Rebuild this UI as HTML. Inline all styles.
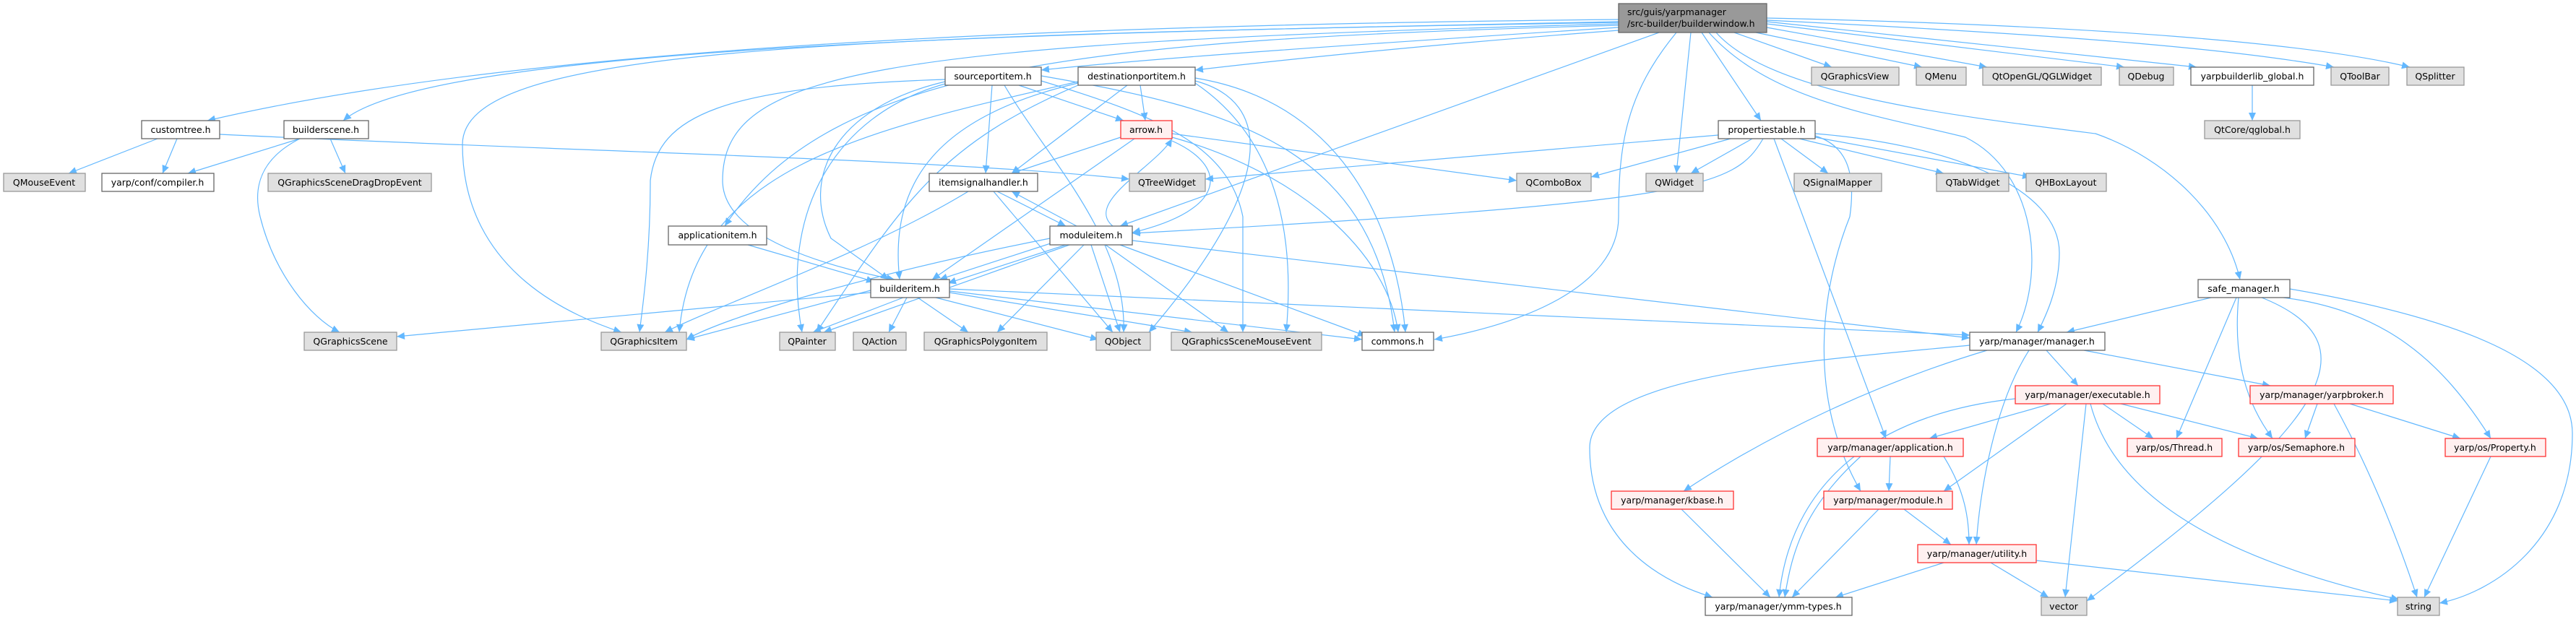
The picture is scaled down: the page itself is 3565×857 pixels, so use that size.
<!DOCTYPE html>
<html><head><meta charset="utf-8"><style>
html,body{margin:0;padding:0;background:#fff;}
svg{display:block;}
text{font-family:"DejaVu Sans","Liberation Sans",sans-serif;font-size:12.5px;fill:#000;}
.w{fill:#fff;stroke:#666;stroke-width:1.3}
.g{fill:#e0e0e0;stroke:#999;stroke-width:1.3}
.r{fill:#fff0f0;stroke:#f33;stroke-width:1.3}
.root{fill:#999;stroke:#666;stroke-width:1.3}
.e{fill:none;stroke:#63b8ff;stroke-width:1.2;marker-end:url(#ah)}
</style></head><body>
<svg width="3565" height="857" viewBox="0 0 3565 857" xmlns="http://www.w3.org/2000/svg">
<defs><marker id="ah" markerUnits="userSpaceOnUse" markerWidth="12" markerHeight="10" refX="11" refY="5" orient="auto"><path d="M0,0 L11,5 L0,10 z" fill="#63b8ff"/></marker></defs>
<g>
<path class="e" d="M2240,27 C1400,35 700,70 287,167"/>
<path class="e" d="M2240,30 C1500,45 600,60 475,167"/>
<path class="e" d="M2240,38 C1900,60 1600,80 1441,97"/>
<path class="e" d="M2240,42 C2000,60 1800,80 1654,97"/>
<path class="e" d="M2240,35 C1500,55 1150,90 1003,313"/>
<path class="e" d="M2240,33 C1200,60 1000,100 1000,250 C1000,330 1150,370 1238,387"/>
<path class="e" d="M2240,31 C1100,50 640,70 640,200 C640,380 800,440 860,460"/>
<path class="e" d="M2296,45 L1550,313"/>
<path class="e" d="M2320,45 C2250,130 2240,200 2240,300 C2240,400 2100,450 1985,470"/>
<path class="e" d="M2340,45 L2320,240"/>
<path class="e" d="M2355,45 L2437,167"/>
<path class="e" d="M2400,45 L2535,93"/>
<path class="e" d="M2430,45 L2660,93"/>
<path class="e" d="M2445,38 L2750,93"/>
<path class="e" d="M2445,33 L2940,93"/>
<path class="e" d="M2445,30 L3040,93"/>
<path class="e" d="M2445,28 C2900,50 3100,70 3230,93"/>
<path class="e" d="M2445,25 C2900,35 3200,60 3335,93"/>
<path class="e" d="M2375,45 C2450,130 2700,160 2900,185 C3000,220 3080,300 3100,387"/>
<path class="e" d="M2365,45 C2450,140 2600,160 2720,190 C2820,240 2830,380 2790,460"/>
<path class="e" d="M3117,118 L3117,167"/>
<path class="e" d="M218,192 L95,240"/>
<path class="e" d="M245,192 L225,240"/>
<path class="e" d="M304,186 C800,210 1300,220 1563,248"/>
<path class="e" d="M415,192 L260,240"/>
<path class="e" d="M457,192 L478,240"/>
<path class="e" d="M415,192 C360,220 350,260 360,300 C380,380 430,440 470,460"/>
<path class="e" d="M1410,118 L1555,167"/>
<path class="e" d="M1373,118 L1364,240"/>
<path class="e" d="M1308,113 C1150,150 1110,250 1150,330 L1230,387"/>
<path class="e" d="M1308,110 C1000,120 910,160 900,250 C900,350 890,420 885,460"/>
<path class="e" d="M1308,116 C1150,160 1080,300 1110,460"/>
<path class="e" d="M1441,112 C1600,160 1700,200 1720,300 L1720,460"/>
<path class="e" d="M1441,105 C1700,150 1900,200 1930,460"/>
<path class="e" d="M1390,118 C1450,220 1560,330 1555,460"/>
<path class="e" d="M1578,118 L1585,167"/>
<path class="e" d="M1560,118 L1400,240"/>
<path class="e" d="M1492,115 C1300,160 1230,250 1245,387"/>
<path class="e" d="M1492,113 C1200,180 960,230 940,460"/>
<path class="e" d="M1492,118 C1300,200 1250,280 1130,460"/>
<path class="e" d="M1654,112 C1760,140 1770,250 1590,460"/>
<path class="e" d="M1654,108 C1850,140 1930,300 1945,460"/>
<path class="e" d="M1654,115 C1780,200 1790,350 1780,460"/>
<path class="e" d="M1551,190 L1400,240"/>
<path class="e" d="M1570,192 L1290,387"/>
<path class="e" d="M1622,185 L2099,250"/>
<path class="e" d="M1622,195 C1700,230 1700,290 1567,322"/>
<path class="e" d="M1540,313 C1500,280 1600,230 1622,192"/>
<path class="e" d="M1622,190 C1800,240 1920,350 1935,460"/>
<path class="e" d="M1340,265 C1200,350 1000,420 920,460"/>
<path class="e" d="M1380,265 L1475,313"/>
<path class="e" d="M1490,313 L1400,265"/>
<path class="e" d="M1375,265 L1540,460"/>
<path class="e" d="M1460,335 L1300,387"/>
<path class="e" d="M1475,339 L1312,392"/>
<path class="e" d="M1453,330 C1200,380 1000,440 950,470"/>
<path class="e" d="M1480,339 L1140,460"/>
<path class="e" d="M1500,339 L1380,460"/>
<path class="e" d="M1510,339 L1550,460"/>
<path class="e" d="M1530,339 L1700,460"/>
<path class="e" d="M1550,339 L1890,465"/>
<path class="e" d="M1567,333 L2726,468"/>
<path class="e" d="M1205,405 L549,466"/>
<path class="e" d="M1205,402 L950,470"/>
<path class="e" d="M1250,412 L1125,460"/>
<path class="e" d="M1255,412 L1230,460"/>
<path class="e" d="M1270,412 L1340,460"/>
<path class="e" d="M1295,412 L1520,470"/>
<path class="e" d="M1314,405 L1650,460"/>
<path class="e" d="M1314,403 L1885,470"/>
<path class="e" d="M1314,400 L2726,464"/>
<path class="e" d="M1035,339 L1210,390"/>
<path class="e" d="M2395,192 L2202,245"/>
<path class="e" d="M2425,192 L2340,240"/>
<path class="e" d="M2465,192 L2530,240"/>
<path class="e" d="M2490,192 L2690,240"/>
<path class="e" d="M2512,190 L2810,245"/>
<path class="e" d="M2378,187 L1668,248"/>
<path class="e" d="M2440,192 C2400,260 2350,280 1567,323"/>
<path class="e" d="M2512,185 C2700,200 2850,260 2850,350 C2850,400 2830,440 2820,460"/>
<path class="e" d="M2455,192 L2610,607"/>
<path class="e" d="M2512,188 C2550,200 2570,230 2560,300 C2520,400 2500,550 2575,680"/>
<path class="e" d="M3060,412 L2860,460"/>
<path class="e" d="M3095,412 L3012,607"/>
<path class="e" d="M3098,412 C3090,500 3110,560 3145,607"/>
<path class="e" d="M3160,412 C3300,430 3380,500 3447,607"/>
<path class="e" d="M3130,412 C3300,480 3200,600 2888,832"/>
<path class="e" d="M3169,400 C3400,440 3560,500 3560,600 C3560,750 3450,820 3376,835"/>
<path class="e" d="M2832,485 L2876,534"/>
<path class="e" d="M2884,485 L3142,534"/>
<path class="e" d="M2808,485 C2760,560 2740,680 2735,754"/>
<path class="e" d="M2726,478 C2500,500 2200,520 2200,620 C2200,780 2350,820 2370,827"/>
<path class="e" d="M2750,485 C2600,530 2450,600 2330,680"/>
<path class="e" d="M2838,559 L2670,607"/>
<path class="e" d="M2860,559 L2690,680"/>
<path class="e" d="M2910,559 L2980,607"/>
<path class="e" d="M2935,559 L3125,607"/>
<path class="e" d="M2887,559 L2858,827"/>
<path class="e" d="M2893,559 C2930,700 3100,780 3320,830"/>
<path class="e" d="M2789,552 C2620,570 2480,650 2462,827"/>
<path class="e" d="M3207,559 L3190,607"/>
<path class="e" d="M3252,559 L3405,607"/>
<path class="e" d="M3230,559 C3280,650 3320,750 3345,827"/>
<path class="e" d="M2616,632 L2614,680"/>
<path class="e" d="M2690,632 C2720,680 2725,720 2725,754"/>
<path class="e" d="M2575,632 C2500,700 2480,760 2470,827"/>
<path class="e" d="M2635,705 L2700,754"/>
<path class="e" d="M2600,705 L2480,827"/>
<path class="e" d="M2327,705 L2450,827"/>
<path class="e" d="M2690,779 L2540,827"/>
<path class="e" d="M2755,779 L2835,827"/>
<path class="e" d="M2818,776 L3318,832"/>
<path class="e" d="M3447,632 L3355,827"/>
</g>
<g text-anchor="middle">
<rect class="root" x="2240" y="5" width="205" height="40"/>
<text x="2252" y="21" text-anchor="start">src/guis/yarpmanager</text>
<text x="2252" y="37" text-anchor="start">/src-builder/builderwindow.h</text>

<rect class="w" x="196" y="167" width="108" height="25"/><text x="250" y="184">customtree.h</text>
<rect class="w" x="393" y="167" width="117" height="25"/><text x="451" y="184">builderscene.h</text>
<rect class="g" x="5" y="240" width="113" height="25"/><text x="61" y="257">QMouseEvent</text>
<rect class="w" x="141" y="240" width="155" height="25"/><text x="218" y="257">yarp/conf/compiler.h</text>
<rect class="g" x="371" y="240" width="226" height="25"/><text x="484" y="257">QGraphicsSceneDragDropEvent</text>
<rect class="w" x="1308" y="93" width="133" height="25"/><text x="1374" y="110">sourceportitem.h</text>
<rect class="w" x="1492" y="93" width="162" height="25"/><text x="1573" y="110">destinationportitem.h</text>
<rect class="r" x="1551" y="167" width="71" height="25"/><text x="1586" y="184">arrow.h</text>
<rect class="w" x="1286" y="240" width="150" height="25"/><text x="1361" y="257">itemsignalhandler.h</text>
<rect class="g" x="1563" y="240" width="105" height="25"/><text x="1615" y="257">QTreeWidget</text>
<rect class="w" x="925" y="313" width="136" height="26"/><text x="993" y="330">applicationitem.h</text>
<rect class="w" x="1453" y="313" width="114" height="26"/><text x="1510" y="330">moduleitem.h</text>
<rect class="w" x="1205" y="387" width="109" height="25"/><text x="1259" y="404">builderitem.h</text>
<rect class="g" x="2507" y="93" width="121" height="25"/><text x="2567" y="110">QGraphicsView</text>
<rect class="g" x="2652" y="93" width="69" height="25"/><text x="2686" y="110">QMenu</text>
<rect class="g" x="2744" y="93" width="164" height="25"/><text x="2826" y="110">QtOpenGL/QGLWidget</text>
<rect class="g" x="2933" y="93" width="75" height="25"/><text x="2970" y="110">QDebug</text>
<rect class="w" x="3032" y="93" width="170" height="25"/><text x="3117" y="110">yarpbuilderlib_global.h</text>
<rect class="g" x="3226" y="93" width="80" height="25"/><text x="3266" y="110">QToolBar</text>
<rect class="g" x="3331" y="93" width="79" height="25"/><text x="3370" y="110">QSplitter</text>
<rect class="w" x="2378" y="167" width="134" height="25"/><text x="2445" y="184">propertiestable.h</text>
<rect class="g" x="3051" y="167" width="132" height="25"/><text x="3117" y="184">QtCore/qglobal.h</text>
<rect class="g" x="2099" y="240" width="103" height="25"/><text x="2150" y="257">QComboBox</text>
<rect class="g" x="2278" y="240" width="79" height="25"/><text x="2317" y="257">QWidget</text>
<rect class="g" x="2483" y="240" width="121" height="25"/><text x="2543" y="257">QSignalMapper</text>
<rect class="g" x="2680" y="240" width="100" height="25"/><text x="2730" y="257">QTabWidget</text>
<rect class="g" x="2804" y="240" width="111" height="25"/><text x="2859" y="257">QHBoxLayout</text>
<rect class="w" x="3042" y="387" width="127" height="25"/><text x="3105" y="404">safe_manager.h</text>

<rect class="g" x="421" y="460" width="128" height="25"/><text x="485" y="477">QGraphicsScene</text>
<rect class="g" x="832" y="460" width="118" height="25"/><text x="891" y="477">QGraphicsItem</text>
<rect class="g" x="1079" y="460" width="77" height="25"/><text x="1117" y="477">QPainter</text>
<rect class="g" x="1181" y="460" width="73" height="25"/><text x="1217" y="477">QAction</text>
<rect class="g" x="1279" y="460" width="170" height="25"/><text x="1364" y="477">QGraphicsPolygonItem</text>
<rect class="g" x="1517" y="460" width="75" height="25"/><text x="1554" y="477">QObject</text>
<rect class="g" x="1621" y="460" width="208" height="25"/><text x="1725" y="477">QGraphicsSceneMouseEvent</text>
<rect class="w" x="1885" y="460" width="99" height="25"/><text x="1934" y="477">commons.h</text>
<rect class="w" x="2726" y="460" width="187" height="25"/><text x="2819" y="477">yarp/manager/manager.h</text>

<rect class="r" x="2789" y="534" width="200" height="25"/><text x="2889" y="551">yarp/manager/executable.h</text>
<rect class="r" x="3114" y="534" width="198" height="25"/><text x="3213" y="551">yarp/manager/yarpbroker.h</text>
<rect class="r" x="2515" y="607" width="202" height="25"/><text x="2616" y="624">yarp/manager/application.h</text>
<rect class="r" x="2944" y="607" width="131" height="25"/><text x="3009" y="624">yarp/os/Thread.h</text>
<rect class="r" x="3098" y="607" width="161" height="25"/><text x="3178" y="624">yarp/os/Semaphore.h</text>
<rect class="r" x="3384" y="607" width="139" height="25"/><text x="3453" y="624">yarp/os/Property.h</text>
<rect class="r" x="2230" y="680" width="169" height="25"/><text x="2314" y="697">yarp/manager/kbase.h</text>
<rect class="r" x="2524" y="680" width="178" height="25"/><text x="2613" y="697">yarp/manager/module.h</text>
<rect class="r" x="2654" y="754" width="164" height="25"/><text x="2736" y="771">yarp/manager/utility.h</text>
<rect class="w" x="2360" y="827" width="203" height="25"/><text x="2461" y="844">yarp/manager/ymm-types.h</text>
<rect class="g" x="2825" y="827" width="63" height="25"/><text x="2856" y="844">vector</text>
<rect class="g" x="3318" y="827" width="58" height="25"/><text x="3347" y="844">string</text>
</g>
</svg>
</body></html>
